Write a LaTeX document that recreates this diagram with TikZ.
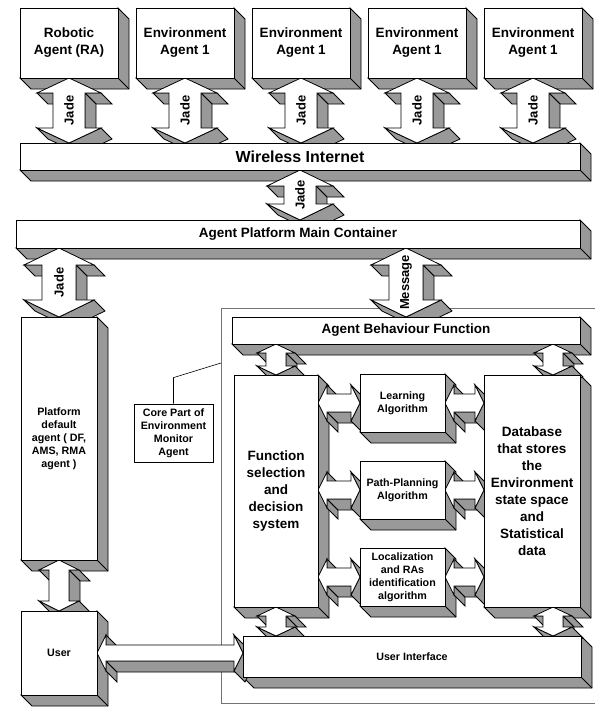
\documentclass[tikz,border=0pt]{standalone}
\usepackage{fontspec}
\setmainfont{Liberation Sans}
\usepackage{tikz}
\usetikzlibrary{calc}

\pgfdeclarelayer{shade}
\pgfdeclarelayer{top}
\pgfsetlayers{shade,main,top}

% depth of the 3d blocks and arrows
\newcommand{\slab}{11}
\newcommand{\setarrow}[3]{\def\ahw{#1pt}\def\asw{#2pt}\def\ahl{#3pt}}

\tikzset{
    cube/.style={draw, fill=white, line width=0.8pt, inner sep=0pt, outer sep=0pt,
        align=center, font=\fontsize{13.5}{17}\selectfont\bfseries},
    smalltext/.style={font=\fontsize{10.7}{13}\selectfont\bfseries},
    boxside/.style={draw, fill=black!40, line width=0.8pt},
    boxface/.style={draw, fill=white, line width=0.8pt},
    rim/.style={draw, line width=0.8pt},
    tag/.style={font=\fontsize{13}{15}\selectfont\bfseries, inner sep=0pt}
}

% grey right and bottom faces of a block
\newcommand{\depthof}[1]{%
    \draw[boxside] (#1.north east) -- ++(\slab,\slab) -- ($(#1.south east)+(\slab,\slab)$)
        -- ($(#1.south west)+(\slab,\slab)$) -- (#1.south west) -- (#1.south east) -- cycle;
    \draw[rim] (#1.south east) -- ++(\slab,\slab);
}

% 3d double arrow, top apex to bottom apex
\newcommand{\vlink}[4]{%
    \path let \p1=#2, \p2=#3 in
        (\x1,\y1) coordinate (#1-1)
        (\x1+\ahw,\y1-\ahl) coordinate (#1-2)
        (\x1+\asw,\y1-\ahl) coordinate (#1-3)
        (\x1+\asw,\y2+\ahl) coordinate (#1-4)
        (\x1+\ahw,\y2+\ahl) coordinate (#1-5)
        (\x1,\y2) coordinate (#1-6)
        (\x1-\ahw,\y2+\ahl) coordinate (#1-7)
        (\x1-\asw,\y2+\ahl) coordinate (#1-8)
        (\x1-\asw,\y1-\ahl) coordinate (#1-9)
        (\x1-\ahw,\y1-\ahl) coordinate (#1-10);
    \draw[boxside] (#1-10) -- (#1-9) -- ++(\slab,\slab) -- ($(#1-10)+(\slab,\slab)$) -- cycle;
    \draw[boxside] (#1-3) -- (#1-2) -- ++(\slab,\slab) -- ($(#1-3)+(\slab,\slab)$) -- cycle;
    \draw[boxside] (#1-3) -- (#1-4) -- ++(\slab,\slab) -- ($(#1-3)+(\slab,\slab)$) -- cycle;
    \draw[boxside] (#1-7) -- (#1-6) -- ++(\slab,\slab) -- ($(#1-7)+(\slab,\slab)$) -- cycle;
    \draw[boxside] (#1-5) -- (#1-6) -- ++(\slab,\slab) -- ($(#1-5)+(\slab,\slab)$) -- cycle;
    \draw[boxface] (#1-1) -- (#1-2) -- (#1-3) -- (#1-4) -- (#1-5) -- (#1-6)
        -- (#1-7) -- (#1-8) -- (#1-9) -- (#1-10) -- cycle;
    \node[tag, rotate=90] (#1) at ($(#1-1)!.5!(#1-6)$) {#4};
}

% 3d double arrow, left apex to right apex
\newcommand{\hlink}[3]{%
    \path let \p1=#2, \p2=#3 in
        (\x1,\y1) coordinate (#1-1)
        (\x1+\ahl,\y1+\ahw) coordinate (#1-2)
        (\x1+\ahl,\y1+\asw) coordinate (#1-3)
        (\x2-\ahl,\y1+\asw) coordinate (#1-4)
        (\x2-\ahl,\y1+\ahw) coordinate (#1-5)
        (\x2,\y1) coordinate (#1-6)
        (\x2-\ahl,\y1-\ahw) coordinate (#1-7)
        (\x2-\ahl,\y1-\asw) coordinate (#1-8)
        (\x1+\ahl,\y1-\asw) coordinate (#1-9)
        (\x1+\ahl,\y1-\ahw) coordinate (#1-10);
    \draw[boxside] (#1-2) -- (#1-3) -- ++(\slab,\slab) -- ($(#1-2)+(\slab,\slab)$) -- cycle;
    \draw[boxside] (#1-9) -- (#1-10) -- ++(\slab,\slab) -- ($(#1-9)+(\slab,\slab)$) -- cycle;
    \draw[boxside] (#1-8) -- (#1-9) -- ++(\slab,\slab) -- ($(#1-8)+(\slab,\slab)$) -- cycle;
    \draw[boxside] (#1-5) -- (#1-6) -- ++(\slab,\slab) -- ($(#1-5)+(\slab,\slab)$) -- cycle;
    \draw[boxside] (#1-7) -- (#1-6) -- ++(\slab,\slab) -- ($(#1-7)+(\slab,\slab)$) -- cycle;
    \draw[boxface] (#1-1) -- (#1-2) -- (#1-3) -- (#1-4) -- (#1-5) -- (#1-6)
        -- (#1-7) -- (#1-8) -- (#1-9) -- (#1-10) -- cycle;
}

\begin{document}
\begin{tikzpicture}[x=1pt, y=-1pt]

    \useasboundingbox (0,0) rectangle (595,707);

    % monitor agent frame
    \draw[black!55, line width=0.8pt] (595,308) -- (221,308) -- (221,703) -- (595,703);
    \coordinate (tap) at (221,363);
    \node[draw, line width=0.8pt, smalltext, inner sep=0pt, align=center,
        minimum width=79pt, minimum height=58pt] (cp) at (173.5,433)
        {Core Part of\\Environment\\Monitor\\Agent};
    \draw[line width=0.6pt] (cp.north) -- ++(0,-26) -- (tap);

    \begin{pgfonlayer}{top}
        \foreach \n/\x/\t in {ra/69/{Robotic\\Agent (RA)}, e1/185/{Environment\\Agent 1},
                e2/301/{Environment\\Agent 1}, e3/417/{Environment\\Agent 1},
                e4/533/{Environment\\Agent 1}}
            \node[cube, minimum width=98pt, minimum height=70pt] (\n) at (\x,43) {\t};

        \node[cube, minimum width=560pt, minimum height=27pt,
            font=\fontsize{16}{19}\selectfont\bfseries] (wi) at (300,156.5) {Wireless Internet};
        \node[cube, minimum width=564pt, minimum height=28pt] (ap) at (298,234) {Agent Platform Main Container};

        \node[cube, smalltext, minimum width=76pt, minimum height=243pt] (pf) at (59,438.5)
            {Platform\\default\\agent ( DF,\\AMS, RMA\\agent )};
        \node[cube, smalltext, minimum width=76pt, minimum height=84pt] (us) at (59,653) {User};

        \node[cube, minimum width=348pt, minimum height=27pt] (ab) at (406,330.5) {Agent Behaviour Function};
        \node[cube, minimum width=84pt, minimum height=232pt] (fs) at (276,491)
            {Function\\selection\\and\\decision\\system};
        \node[cube, smalltext, minimum width=85pt, minimum height=58pt] (la) at (402.5,403) {Learning\\Algorithm};
        \node[cube, smalltext, minimum width=85pt, minimum height=58pt] (pp) at (402.5,490) {Path-Planning\\Algorithm};
        \node[cube, smalltext, minimum width=85pt, minimum height=58pt] (lo) at (402.5,577)
            {Localization\\and RAs\\identification\\algorithm};
        \node[cube, minimum width=96pt, minimum height=232pt] (db) at (532,491)
            {Database\\that stores\\the\\Environment\\state space\\and\\Statistical\\data};
        \node[cube, smalltext, minimum width=338pt, minimum height=41pt] (ui) at (412,656.5) {User Interface};
    \end{pgfonlayer}

    \begin{pgfonlayer}{shade}
        \foreach \b in {ra,e1,e2,e3,e4,wi,ap,pf,us,ab,fs,la,pp,lo,db,ui}
            {\depthof{\b}}
    \end{pgfonlayer}

    % jade links to the internet
    \setarrow{32}{16}{15}
    \vlink{j0}{(ra.south)}{(ra.south |- wi.north)}{Jade}
    \vlink{j1}{(e1.south)}{(e1.south |- wi.north)}{Jade}
    \vlink{j2}{(e2.south)}{(e2.south |- wi.north)}{Jade}
    \vlink{j3}{(e3.south)}{(e3.south |- wi.north)}{Jade}
    \vlink{j4}{(e4.south)}{(e4.south |- wi.north)}{Jade}

    \setarrow{33}{16}{16}
    \vlink{j5}{(wi.south)}{(wi.south |- ap.north)}{Jade}

    \setarrow{35}{17}{17}
    \vlink{j6}{(pf.north |- ap.south)}{(pf.north)}{Jade}
    \vlink{msg}{(ab.north |- ap.south)}{(ab.north)}{Message}

    % inside the monitor agent
    \coordinate (dbx) at ($(db.north)+(21,0)$);
    \setarrow{19}{10}{9}
    \vlink{a1}{(fs.north |- ab.south)}{(fs.north)}{}
    \vlink{a2}{(dbx |- ab.south)}{(dbx)}{}
    \vlink{a3}{(fs.south)}{(fs.south |- ui.north)}{}
    \vlink{a4}{(dbx |- db.south)}{(dbx |- ui.north)}{}

    \setarrow{18}{9}{9}
    \hlink{h1}{(fs.east |- la.west)}{(la.west)}
    \hlink{h2}{(fs.east |- pp.west)}{(pp.west)}
    \hlink{h3}{(fs.east |- lo.west)}{(lo.west)}
    \hlink{h4}{(la.east)}{(la.east -| db.west)}
    \hlink{h5}{(pp.east)}{(pp.east -| db.west)}
    \hlink{h6}{(lo.east)}{(lo.east -| db.west)}

    % user side
    \setarrow{20}{10}{10}
    \vlink{a5}{(pf.south)}{(us.north)}{}
    \setarrow{18}{8}{9}
    \hlink{h7}{(us.east)}{(us.east -| ui.west)}

\end{tikzpicture}
\end{document}
